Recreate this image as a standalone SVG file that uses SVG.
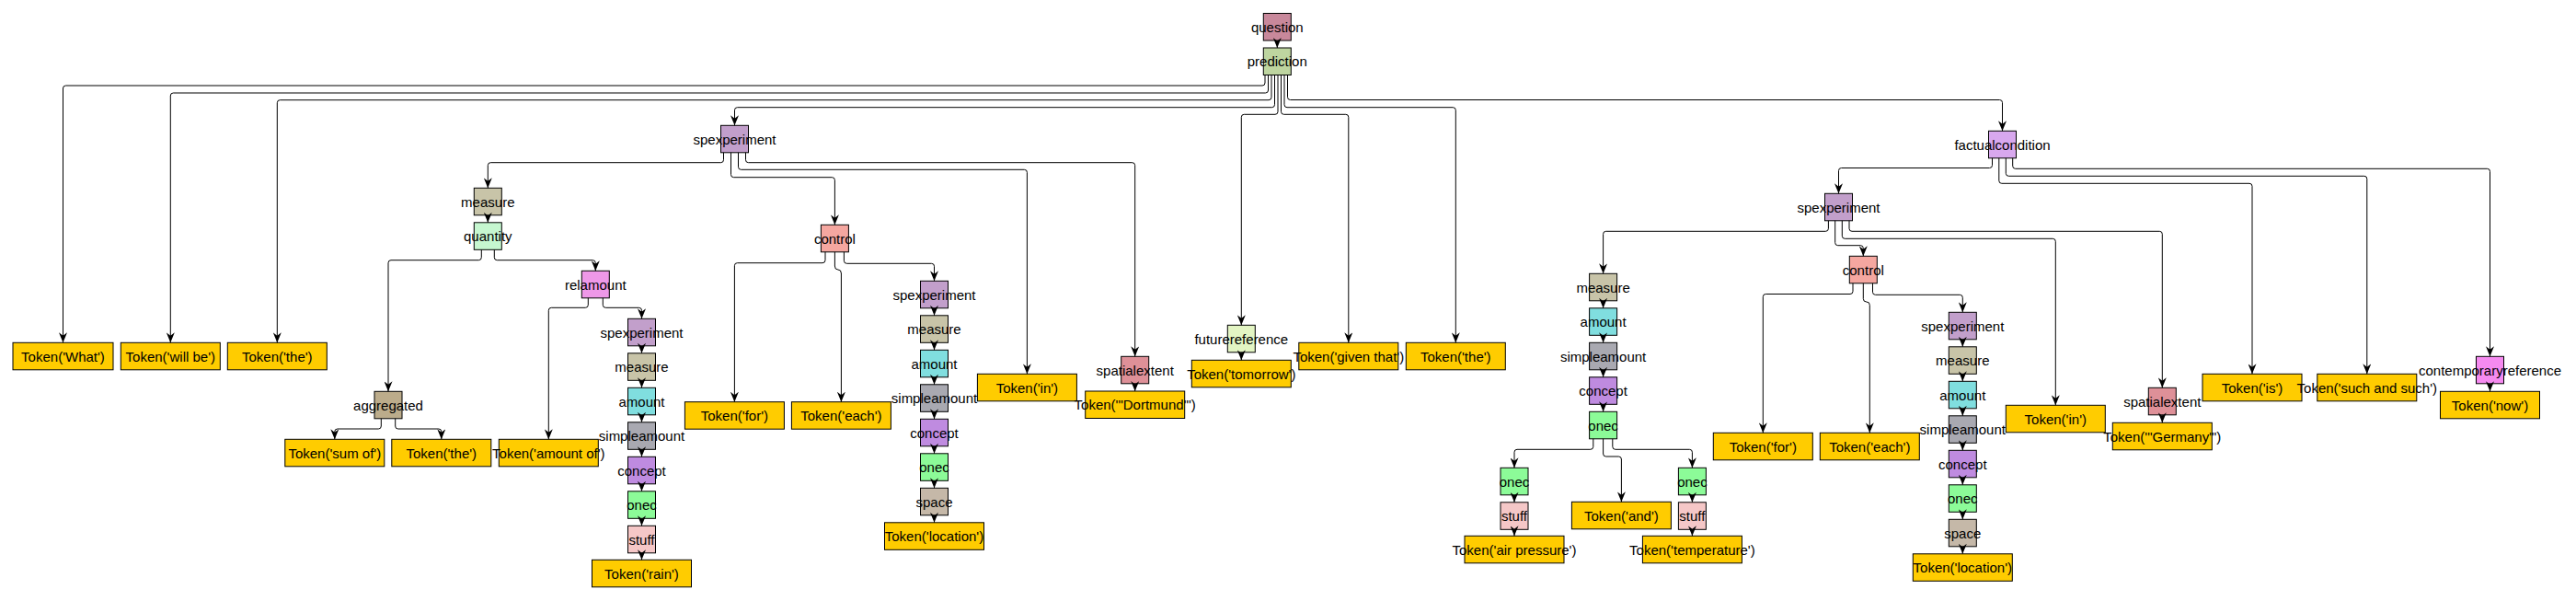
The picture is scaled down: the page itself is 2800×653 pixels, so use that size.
<svg xmlns="http://www.w3.org/2000/svg" width="2800" height="653" viewBox="0 0 2800 653">
<defs>
<marker id="arr" markerUnits="userSpaceOnUse" markerWidth="11" markerHeight="9" viewBox="0 0 11 9" refX="11" refY="4.5" orient="auto">
<path d="M0,0 L11,4.5 L0,9 L3.5,4.5 Z" fill="#000"/>
</marker>
<style>
rect{stroke:#000;stroke-width:1}
text{font-family:"Liberation Sans",Arial,sans-serif;font-size:15px;text-anchor:middle;dominant-baseline:central;fill:#000}
.e path{fill:none;stroke:#000;stroke-width:1;marker-end:url(#arr)}
.tok{fill:#FFCC00}
.question{fill:#C8889B}
.prediction{fill:#BED5A0}
.spexp{fill:#C29FCB}
.measure{fill:#C8C4A8}
.quantity{fill:#C6F7D0}
.relamount{fill:#EE98E8}
.amount{fill:#80DEDF}
.simple{fill:#A9A9B1}
.concept{fill:#BF8BE0}
.onec{fill:#8CFB98}
.stuff{fill:#F5C7C7}
.space{fill:#C5B8A8}
.aggr{fill:#BCAC8B}
.control{fill:#F5A7A0}
.spatial{fill:#DE9098}
.future{fill:#E3F5C3}
.factual{fill:#D8A8EE}
.contemp{fill:#F58AF0}
</style>
</defs>
<rect x="0" y="0" width="2800" height="653" fill="#fff" style="stroke:none"/>
<g id="nodes">
<g id="n-question"><rect class="question" x="1373.3" y="14.5" width="30" height="29.5"/><text x="1388.3" y="29.25">question</text></g>
<g id="n-prediction"><rect class="prediction" x="1373.3" y="52" width="30" height="29.5"/><text x="1388.3" y="66.75">prediction</text></g>
<g id="n-tok-what"><rect class="tok" x="14" y="372.3" width="109" height="29.5"/><text x="68.5" y="387.05">Token('What')</text></g>
<g id="n-tok-willbe"><rect class="tok" x="131.3" y="372.3" width="108" height="29.5"/><text x="185.3" y="387.05">Token('will be')</text></g>
<g id="n-tok-the1"><rect class="tok" x="247.3" y="372.3" width="108" height="29.5"/><text x="301.3" y="387.05">Token('the')</text></g>
<g id="n-spexp-a"><rect class="spexp" x="783.5" y="136.3" width="30" height="29.5"/><text x="798.5" y="151.05">spexperiment</text></g>
<g id="n-measure-a"><rect class="measure" x="515.3" y="204.3" width="30" height="29.5"/><text x="530.3" y="219.05">measure</text></g>
<g id="n-quantity"><rect class="quantity" x="515.3" y="241.8" width="30" height="29.5"/><text x="530.3" y="256.55">quantity</text></g>
<g id="n-aggregated"><rect class="aggr" x="407" y="425.3" width="30" height="29.5"/><text x="422" y="440.05">aggregated</text></g>
<g id="n-tok-sumof"><rect class="tok" x="309.8" y="477.3" width="108" height="29.5"/><text x="363.8" y="492.05">Token('sum of')</text></g>
<g id="n-tok-the2"><rect class="tok" x="425.8" y="477.3" width="108" height="29.5"/><text x="479.8" y="492.05">Token('the')</text></g>
<g id="n-relamount"><rect class="relamount" x="632.3" y="294.3" width="30" height="29.5"/><text x="647.3" y="309.05">relamount</text></g>
<g id="n-tok-amountof"><rect class="tok" x="542.3" y="477.3" width="108" height="29.5"/><text x="596.3" y="492.05">Token('amount of')</text></g>
<g id="n-spexp-b"><rect class="spexp" x="682.5" y="346.3" width="30" height="29.5"/><text x="697.5" y="361.05">spexperiment</text></g>
<g id="n-measure-b"><rect class="measure" x="682.5" y="383.8" width="30" height="29.5"/><text x="697.5" y="398.55">measure</text></g>
<g id="n-amount-b"><rect class="amount" x="682.5" y="421.3" width="30" height="29.5"/><text x="697.5" y="436.05">amount</text></g>
<g id="n-simple-b"><rect class="simple" x="682.5" y="458.8" width="30" height="29.5"/><text x="697.5" y="473.55">simpleamount</text></g>
<g id="n-concept-b"><rect class="concept" x="682.5" y="496.3" width="30" height="29.5"/><text x="697.5" y="511.05">concept</text></g>
<g id="n-onec-b"><rect class="onec" x="682.5" y="533.8" width="30" height="29.5"/><text x="697.5" y="548.55">onec</text></g>
<g id="n-stuff-b"><rect class="stuff" x="682.5" y="571.3" width="30" height="29.5"/><text x="697.5" y="586.05">stuff</text></g>
<g id="n-tok-rain"><rect class="tok" x="643.5" y="608.3" width="108" height="29.5"/><text x="697.5" y="623.05">Token('rain')</text></g>
<g id="n-control-a"><rect class="control" x="892.4" y="244.3" width="30" height="29.5"/><text x="907.4" y="259.05">control</text></g>
<g id="n-tok-for-a"><rect class="tok" x="744.4" y="436.7" width="108" height="29.5"/><text x="798.4" y="451.45">Token('for')</text></g>
<g id="n-tok-each-a"><rect class="tok" x="860.4" y="436.7" width="108" height="29.5"/><text x="914.4" y="451.45">Token('each')</text></g>
<g id="n-spexp-c"><rect class="spexp" x="1000.5" y="305.3" width="30" height="29.5"/><text x="1015.5" y="320.05">spexperiment</text></g>
<g id="n-measure-c"><rect class="measure" x="1000.5" y="342.8" width="30" height="29.5"/><text x="1015.5" y="357.55">measure</text></g>
<g id="n-amount-c"><rect class="amount" x="1000.5" y="380.3" width="30" height="29.5"/><text x="1015.5" y="395.05">amount</text></g>
<g id="n-simple-c"><rect class="simple" x="1000.5" y="417.8" width="30" height="29.5"/><text x="1015.5" y="432.55">simpleamount</text></g>
<g id="n-concept-c"><rect class="concept" x="1000.5" y="455.3" width="30" height="29.5"/><text x="1015.5" y="470.05">concept</text></g>
<g id="n-onec-c"><rect class="onec" x="1000.5" y="492.8" width="30" height="29.5"/><text x="1015.5" y="507.55">onec</text></g>
<g id="n-space-c"><rect class="space" x="1000.5" y="530.3" width="30" height="29.5"/><text x="1015.5" y="545.05">space</text></g>
<g id="n-tok-location-c"><rect class="tok" x="961.5" y="567.8" width="108" height="29.5"/><text x="1015.5" y="582.55">Token('location')</text></g>
<g id="n-tok-in-a"><rect class="tok" x="1062.4" y="406.3" width="108" height="29.5"/><text x="1116.4" y="421.05">Token('in')</text></g>
<g id="n-spatial-a"><rect class="spatial" x="1218.7" y="387.3" width="30" height="29.5"/><text x="1233.7" y="402.05">spatialextent</text></g>
<g id="n-tok-dortmund"><rect class="tok" x="1179.7" y="425" width="108" height="29.5"/><text x="1233.7" y="439.75">Token('"Dortmund"')</text></g>
<g id="n-future"><rect class="future" x="1334.3" y="353.3" width="30" height="29.5"/><text x="1349.3" y="368.05">futurereference</text></g>
<g id="n-tok-tomorrow"><rect class="tok" x="1295.3" y="391.3" width="108" height="29.5"/><text x="1349.3" y="406.05">Token('tomorrow')</text></g>
<g id="n-tok-giventhat"><rect class="tok" x="1411.8" y="372.3" width="108" height="29.5"/><text x="1465.8" y="387.05">Token('given that')</text></g>
<g id="n-tok-the3"><rect class="tok" x="1528.3" y="372.3" width="108" height="29.5"/><text x="1582.3" y="387.05">Token('the')</text></g>
<g id="n-factual"><rect class="factual" x="2161.5" y="142.3" width="30" height="29.5"/><text x="2176.5" y="157.05">factualcondition</text></g>
<g id="n-spexp-d"><rect class="spexp" x="1983.5" y="210.3" width="30" height="29.5"/><text x="1998.5" y="225.05">spexperiment</text></g>
<g id="n-measure-e"><rect class="measure" x="1727.6" y="297.3" width="30" height="29.5"/><text x="1742.6" y="312.05">measure</text></g>
<g id="n-amount-e"><rect class="amount" x="1727.6" y="334.8" width="30" height="29.5"/><text x="1742.6" y="349.55">amount</text></g>
<g id="n-simple-e"><rect class="simple" x="1727.6" y="372.3" width="30" height="29.5"/><text x="1742.6" y="387.05">simpleamount</text></g>
<g id="n-concept-e"><rect class="concept" x="1727.6" y="409.8" width="30" height="29.5"/><text x="1742.6" y="424.55">concept</text></g>
<g id="n-onec-e"><rect class="onec" x="1727.6" y="447.3" width="30" height="29.5"/><text x="1742.6" y="462.05">onec</text></g>
<g id="n-onec-l"><rect class="onec" x="1631" y="508.3" width="30" height="29.5"/><text x="1646" y="523.05">onec</text></g>
<g id="n-stuff-l"><rect class="stuff" x="1631" y="545.8" width="30" height="29.5"/><text x="1646" y="560.55">stuff</text></g>
<g id="n-tok-airpressure"><rect class="tok" x="1592" y="582.3" width="108" height="29.5"/><text x="1646" y="597.05">Token('air pressure')</text></g>
<g id="n-tok-and"><rect class="tok" x="1708.4" y="545.3" width="108" height="29.5"/><text x="1762.4" y="560.05">Token('and')</text></g>
<g id="n-onec-r"><rect class="onec" x="1824.4" y="508.3" width="30" height="29.5"/><text x="1839.4" y="523.05">onec</text></g>
<g id="n-stuff-r"><rect class="stuff" x="1824.4" y="545.8" width="30" height="29.5"/><text x="1839.4" y="560.55">stuff</text></g>
<g id="n-tok-temperature"><rect class="tok" x="1785.4" y="582.3" width="108" height="29.5"/><text x="1839.4" y="597.05">Token('temperature')</text></g>
<g id="n-control-d"><rect class="control" x="2010.3" y="278.3" width="30" height="29.5"/><text x="2025.3" y="293.05">control</text></g>
<g id="n-tok-for-d"><rect class="tok" x="1862.3" y="470.3" width="108" height="29.5"/><text x="1916.3" y="485.05">Token('for')</text></g>
<g id="n-tok-each-d"><rect class="tok" x="1978.3" y="470.3" width="108" height="29.5"/><text x="2032.3" y="485.05">Token('each')</text></g>
<g id="n-spexp-f"><rect class="spexp" x="2118.3" y="339.3" width="30" height="29.5"/><text x="2133.3" y="354.05">spexperiment</text></g>
<g id="n-measure-f"><rect class="measure" x="2118.3" y="376.8" width="30" height="29.5"/><text x="2133.3" y="391.55">measure</text></g>
<g id="n-amount-f"><rect class="amount" x="2118.3" y="414.3" width="30" height="29.5"/><text x="2133.3" y="429.05">amount</text></g>
<g id="n-simple-f"><rect class="simple" x="2118.3" y="451.8" width="30" height="29.5"/><text x="2133.3" y="466.55">simpleamount</text></g>
<g id="n-concept-f"><rect class="concept" x="2118.3" y="489.3" width="30" height="29.5"/><text x="2133.3" y="504.05">concept</text></g>
<g id="n-onec-f"><rect class="onec" x="2118.3" y="526.8" width="30" height="29.5"/><text x="2133.3" y="541.55">onec</text></g>
<g id="n-space-f"><rect class="space" x="2118.3" y="564.3" width="30" height="29.5"/><text x="2133.3" y="579.05">space</text></g>
<g id="n-tok-location-f"><rect class="tok" x="2079.3" y="601.8" width="108" height="29.5"/><text x="2133.3" y="616.55">Token('location')</text></g>
<g id="n-tok-in-d"><rect class="tok" x="2180.3" y="440.3" width="108" height="29.5"/><text x="2234.3" y="455.05">Token('in')</text></g>
<g id="n-spatial-d"><rect class="spatial" x="2335.3" y="421.3" width="30" height="29.5"/><text x="2350.3" y="436.05">spatialextent</text></g>
<g id="n-tok-germany"><rect class="tok" x="2296.3" y="459.3" width="108" height="29.5"/><text x="2350.3" y="474.05">Token('"Germany"')</text></g>
<g id="n-tok-is"><rect class="tok" x="2394" y="406.3" width="108" height="29.5"/><text x="2448" y="421.05">Token('is')</text></g>
<g id="n-tok-suchandsuch"><rect class="tok" x="2518.8" y="406.3" width="108" height="29.5"/><text x="2572.8" y="421.05">Token('such and such')</text></g>
<g id="n-contemp"><rect class="contemp" x="2691.5" y="387.3" width="30" height="29.5"/><text x="2706.5" y="402.05">contemporaryreference</text></g>
<g id="n-tok-now"><rect class="tok" x="2652.5" y="425.3" width="108" height="29.5"/><text x="2706.5" y="440.05">Token('now')</text></g>
</g>
<g id="connectors" class="e">
<path d="M1388.3,44 V52"/>
<path d="M1375,81.5 V90 Q1375,93 1372,93 H71.5 Q68.5,93 68.5,96 V372.3"/>
<path d="M1378.5,81.5 V98 Q1378.5,101 1375.5,101 H188.3 Q185.3,101 185.3,104 V372.3"/>
<path d="M1382,81.5 V105.7 Q1382,108.7 1379,108.7 H304.3 Q301.3,108.7 301.3,111.7 V372.3"/>
<path d="M1385.5,81.5 V113.7 Q1385.5,116.7 1382.5,116.7 H801.5 Q798.5,116.7 798.5,119.7 V136.3"/>
<path d="M1389,81.5 V121.3 Q1389,124.3 1386,124.3 H1352.3 Q1349.3,124.3 1349.3,127.3 V353.3"/>
<path d="M1392.5,81.5 V121.3 Q1392.5,124.3 1395.5,124.3 H1462.8 Q1465.8,124.3 1465.8,127.3 V372.3"/>
<path d="M1396,81.5 V113.7 Q1396,116.7 1399,116.7 H1579.3 Q1582.3,116.7 1582.3,119.7 V372.3"/>
<path d="M1399.5,81.5 V105.5 Q1399.5,108.5 1402.5,108.5 H2173.5 Q2176.5,108.5 2176.5,111.5 V142.3"/>
<path d="M786.5,165.8 V173.7 Q786.5,176.7 783.5,176.7 H533.3 Q530.3,176.7 530.3,179.7 V204.3"/>
<path d="M794.5,165.8 V189.7 Q794.5,192.7 797.5,192.7 H904.4 Q907.4,192.7 907.4,195.7 V244.3"/>
<path d="M802.5,165.8 V181.3 Q802.5,184.3 805.5,184.3 H1113.4 Q1116.4,184.3 1116.4,187.3 V406.3"/>
<path d="M810.5,165.8 V173.7 Q810.5,176.7 813.5,176.7 H1230.7 Q1233.7,176.7 1233.7,179.7 V387.3"/>
<path d="M530.3,233.8 V241.8"/>
<path d="M523.3,271.3 V279.7 Q523.3,282.7 520.3,282.7 H425 Q422,282.7 422,285.7 V425.3"/>
<path d="M537.3,271.3 V279.7 Q537.3,282.7 540.3,282.7 H644.3 Q647.3,282.7 647.3,285.7 V294.3"/>
<path d="M639.3,323.8 V331.3 Q639.3,334.3 636.3,334.3 H599.3 Q596.3,334.3 596.3,337.3 V477.3"/>
<path d="M655.3,323.8 V331.3 Q655.3,334.3 658.3,334.3 H694.5 Q697.5,334.3 697.5,337.3 V346.3"/>
<path d="M414.3,454.8 V463 Q414.3,466 411.3,466 H366.8 Q363.8,466 363.8,469 V477.3"/>
<path d="M429.7,454.8 V463 Q429.7,466 432.7,466 H476.8 Q479.8,466 479.8,469 V477.3"/>
<path d="M697.5,375.8 V383.8"/>
<path d="M697.5,413.3 V421.3"/>
<path d="M697.5,450.8 V458.8"/>
<path d="M697.5,488.3 V496.3"/>
<path d="M697.5,525.8 V533.8"/>
<path d="M697.5,563.3 V571.3"/>
<path d="M697.5,600.8 V608.3"/>
<path d="M897,273.8 V282.7 Q897,285.7 894,285.7 H801.4 Q798.4,285.7 798.4,288.7 V436.7"/>
<path d="M907.4,273.8 V289 Q907.4,293 910.9,293 Q914.4,293 914.4,297 V436.7"/>
<path d="M917.4,273.8 V283.3 Q917.4,286.3 920.4,286.3 H1012.5 Q1015.5,286.3 1015.5,289.3 V305.3"/>
<path d="M1015.5,334.8 V342.8"/>
<path d="M1015.5,372.3 V380.3"/>
<path d="M1015.5,409.8 V417.8"/>
<path d="M1015.5,447.3 V455.3"/>
<path d="M1015.5,484.8 V492.8"/>
<path d="M1015.5,522.3 V530.3"/>
<path d="M1015.5,559.8 V567.8"/>
<path d="M1233.7,416.8 V425"/>
<path d="M1349.3,382.8 V391.3"/>
<path d="M2165.5,171.8 V179.5 Q2165.5,182.5 2162.5,182.5 H2001.5 Q1998.5,182.5 1998.5,185.5 V210.3"/>
<path d="M2172.8,171.8 V196.3 Q2172.8,199.3 2175.8,199.3 H2445 Q2448,199.3 2448,202.3 V406.3"/>
<path d="M2180.3,171.8 V188.3 Q2180.3,191.3 2183.3,191.3 H2569.8 Q2572.8,191.3 2572.8,194.3 V406.3"/>
<path d="M2187.7,171.8 V180.3 Q2187.7,183.3 2190.7,183.3 H2703.5 Q2706.5,183.3 2706.5,186.3 V387.3"/>
<path d="M1987.4,239.8 V248.3 Q1987.4,251.3 1984.4,251.3 H1745.6 Q1742.6,251.3 1742.6,254.3 V297.3"/>
<path d="M1994.7,239.8 V263.7 Q1994.7,266.7 1997.7,266.7 H2022.3 Q2025.3,266.7 2025.3,269.7 V278.3"/>
<path d="M2002.3,239.8 V256.3 Q2002.3,259.3 2005.3,259.3 H2231.3 Q2234.3,259.3 2234.3,262.3 V440.3"/>
<path d="M2010,239.8 V248.3 Q2010,251.3 2013,251.3 H2347.3 Q2350.3,251.3 2350.3,254.3 V421.3"/>
<path d="M1742.6,326.8 V334.8"/>
<path d="M1742.6,364.3 V372.3"/>
<path d="M1742.6,401.8 V409.8"/>
<path d="M1742.6,439.3 V447.3"/>
<path d="M1731.8,476.8 V485.3 Q1731.8,488.3 1728.8,488.3 H1649 Q1646,488.3 1646,491.3 V508.3"/>
<path d="M1742.6,476.8 V493 Q1742.6,496 1745.6,496 H1759.4 Q1762.4,496 1762.4,499 V545.3"/>
<path d="M1752.8,476.8 V485.3 Q1752.8,488.3 1755.8,488.3 H1836.4 Q1839.4,488.3 1839.4,491.3 V508.3"/>
<path d="M1646,537.8 V545.8"/>
<path d="M1646,575.3 V582.3"/>
<path d="M1839.4,537.8 V545.8"/>
<path d="M1839.4,575.3 V582.3"/>
<path d="M2014,307.8 V316.5 Q2014,319.5 2011,319.5 H1919.3 Q1916.3,319.5 1916.3,322.5 V470.3"/>
<path d="M2025.3,307.8 V324.5 Q2025.3,328 2028.8,328 Q2032.3,328 2032.3,331.5 V470.3"/>
<path d="M2035.5,307.8 V317.3 Q2035.5,320.3 2038.5,320.3 H2130.3 Q2133.3,320.3 2133.3,323.3 V339.3"/>
<path d="M2133.3,368.8 V376.8"/>
<path d="M2133.3,406.3 V414.3"/>
<path d="M2133.3,443.8 V451.8"/>
<path d="M2133.3,481.3 V489.3"/>
<path d="M2133.3,518.8 V526.8"/>
<path d="M2133.3,556.3 V564.3"/>
<path d="M2133.3,593.8 V601.8"/>
<path d="M2350.3,450.8 V459.3"/>
<path d="M2706.5,416.8 V425.3"/>
</g>
</svg>
